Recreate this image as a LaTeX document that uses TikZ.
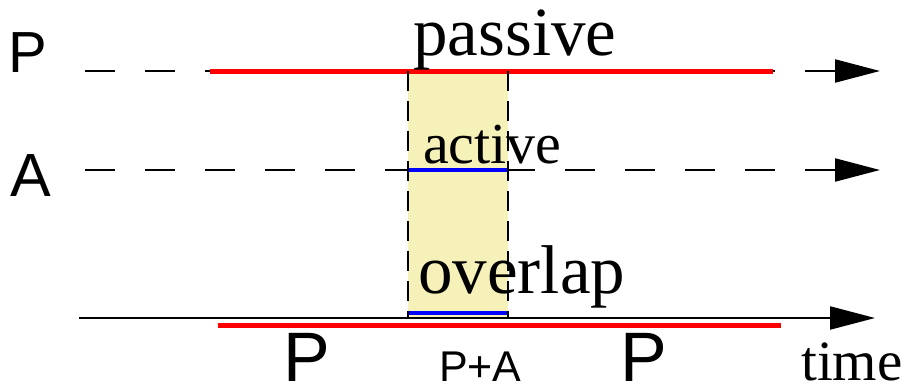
\documentclass[tikz,border=0pt]{standalone}
\usepackage{fontspec}
\setmainfont{Liberation Serif}
\newfontfamily\labelsans{Liberation Sans}
\usetikzlibrary{arrows.meta}
\definecolor{overlapfill}{RGB}{245,241,185}
\definecolor{passred}{RGB}{255,0,0}
\definecolor{actblue}{RGB}{0,0,255}
\tikzset{
  track/.style={line width=2.2pt, dash pattern=on 30pt off 30pt,
    -{Triangle[length=45pt,width=23pt]}},
  axis/.style={line width=2.2pt, -{Triangle[length=45pt,width=23pt]}},
  edge/.style={line width=2pt, dash pattern=on 20pt off 10pt},
  passbar/.style={passred, line width=5pt},
  actbar/.style={actblue, line width=4.5pt},
  word/.style={inner sep=0pt, anchor=base west},
}
\begin{document}
\begin{tikzpicture}[x=1pt, y=-1pt]
  \useasboundingbox (0,0) rectangle (910,388);

  % end points of the tracks and of the overlap window
  \coordinate (p0) at (85,71);   \coordinate (p1) at (880,71);
  \coordinate (a0) at (85,170);  \coordinate (a1) at (880,170);
  \coordinate (t0) at (79,318);  \coordinate (t1) at (875,318);
  \coordinate (wtl) at (408,71); \coordinate (wtr) at (508,71);
  \coordinate (wbl) at (408,318);\coordinate (wbr) at (508,318);

  % overlap window
  \fill[overlapfill] (wtl) rectangle (wbr);

  % timelines
  \draw[track] (p0) -- (p1);
  \draw[track] (a0) -- (a1);
  \draw[axis] (t0) -- (t1);

  % activity intervals
  \coordinate (ps) at (210,71);  \coordinate (pe) at (773,71);
  \coordinate (as) at (408,170); \coordinate (ae) at (508,170);
  \coordinate (os) at (408,313); \coordinate (oe) at (508,313);
  \coordinate (rs) at (218,325); \coordinate (re) at (781,325);
  \draw[passbar] (ps) -- (pe);
  \draw[actbar] (as) -- (ae);
  \draw[actbar] (os) -- (oe);
  \draw[passbar] (rs) -- (re);

  % window borders
  \draw[edge] (wtl) -- (wbl);
  \draw[edge] (wtr) -- (wbr);

  % labels
  \node[word, font=\labelsans\fontsize{58}{58}\selectfont] (lp) at (8,72) {P};
  \node[word, font=\labelsans\fontsize{61}{61}\selectfont] (la) at (10,196) {A};
  \node[word, font=\fontsize{69}{69}\selectfont] (lpass) at (413,55) {passive};
  \node[word, font=\fontsize{58}{58}\selectfont] (lact) at (423,163) {active};
  \node[word, font=\fontsize{69}{69}\selectfont] (lover) at (418,293) {overlap};
  \node[word, font=\fontsize{57}{57}\selectfont] (ltime) at (801,380) {time};
  \node[word, font=\labelsans\fontsize{70}{70}\selectfont] (lp1) at (283,381) {P};
  \node[word, font=\labelsans\fontsize{43}{43}\selectfont] (lpa) at (439,381) {P+A};
  \node[word, font=\labelsans\fontsize{70}{70}\selectfont] (lp2) at (620,381) {P};
\end{tikzpicture}
\end{document}
